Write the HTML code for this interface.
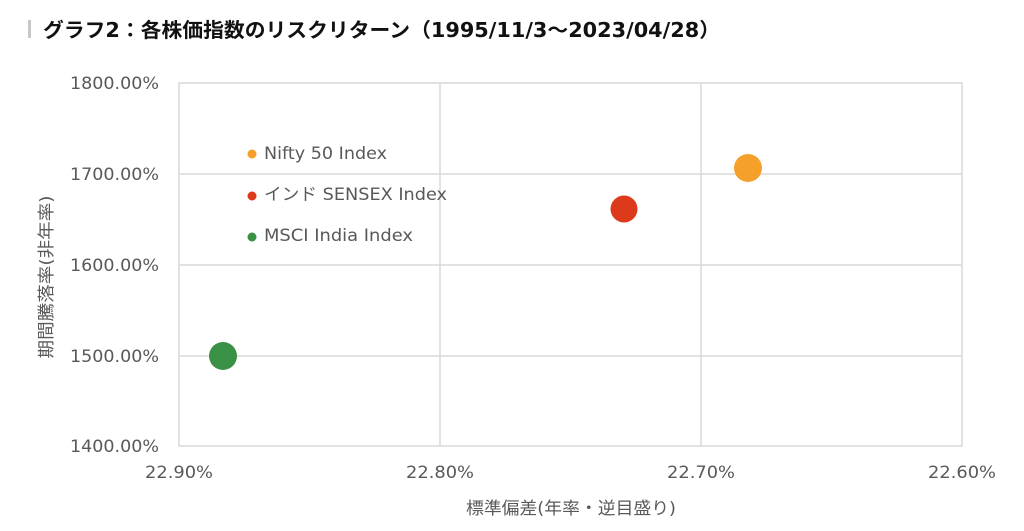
<!DOCTYPE html>
<html><head><meta charset="utf-8"><style>
body{margin:0;background:#fff;width:1024px;height:526px;overflow:hidden}
svg text{font-family:"DejaVu Sans","Noto Sans CJK JP",sans-serif}
</style></head><body>
<svg width="1024" height="526" xmlns="http://www.w3.org/2000/svg">
<rect x="28" y="20" width="3" height="18" fill="#c8c8c8"/>
<text x="43" y="37" font-size="20" font-weight="bold" fill="#111" textLength="677" lengthAdjust="spacingAndGlyphs">グラフ2：各株価指数のリスクリターン（1995/11/3～2023/04/28）</text>
<g stroke="#d9d9d9" stroke-width="1.5" fill="none">
<rect x="179" y="83" width="783" height="363"/>
<line x1="179" y1="174" x2="962" y2="174"/>
<line x1="179" y1="265" x2="962" y2="265"/>
<line x1="179" y1="356" x2="962" y2="356"/>
<line x1="440" y1="83" x2="440" y2="446"/>
<line x1="701" y1="83" x2="701" y2="446"/>
</g>
<g font-size="17" fill="#595959" text-anchor="end">
<text x="159" y="89" textLength="89" lengthAdjust="spacingAndGlyphs">1800.00%</text>
<text x="159" y="180" textLength="89" lengthAdjust="spacingAndGlyphs">1700.00%</text>
<text x="159" y="271" textLength="89" lengthAdjust="spacingAndGlyphs">1600.00%</text>
<text x="159" y="362" textLength="89" lengthAdjust="spacingAndGlyphs">1500.00%</text>
<text x="159" y="452" textLength="89" lengthAdjust="spacingAndGlyphs">1400.00%</text>
</g>
<g font-size="17" fill="#595959" text-anchor="middle">
<text x="179" y="478" textLength="68" lengthAdjust="spacingAndGlyphs">22.90%</text>
<text x="440" y="478" textLength="68" lengthAdjust="spacingAndGlyphs">22.80%</text>
<text x="701" y="478" textLength="68" lengthAdjust="spacingAndGlyphs">22.70%</text>
<text x="962" y="478" textLength="68" lengthAdjust="spacingAndGlyphs">22.60%</text>
<text x="571" y="514" textLength="210" lengthAdjust="spacingAndGlyphs">標準偏差(年率・逆目盛り)</text>
</g>
<text transform="translate(52,277) rotate(-90)" font-size="17" fill="#595959" text-anchor="middle" textLength="163" lengthAdjust="spacingAndGlyphs">期間騰落率(非年率)</text>
<circle cx="748" cy="168" r="14" fill="#f5a02a"/>
<circle cx="624" cy="209" r="13.5" fill="#dc3a1a"/>
<circle cx="223" cy="356" r="14" fill="#3a9045"/>
<circle cx="252" cy="154" r="4.5" fill="#f5a02a"/>
<circle cx="252" cy="196" r="4.5" fill="#dc3a1a"/>
<circle cx="252" cy="237" r="4.5" fill="#3a9045"/>
<g font-size="17" fill="#595959">
<text x="264" y="159" textLength="123" lengthAdjust="spacingAndGlyphs">Nifty 50 Index</text>
<text x="264" y="200" textLength="183" lengthAdjust="spacingAndGlyphs">インド SENSEX Index</text>
<text x="264" y="241" textLength="149" lengthAdjust="spacingAndGlyphs">MSCI India Index</text>
</g>
</svg>
</body></html>
